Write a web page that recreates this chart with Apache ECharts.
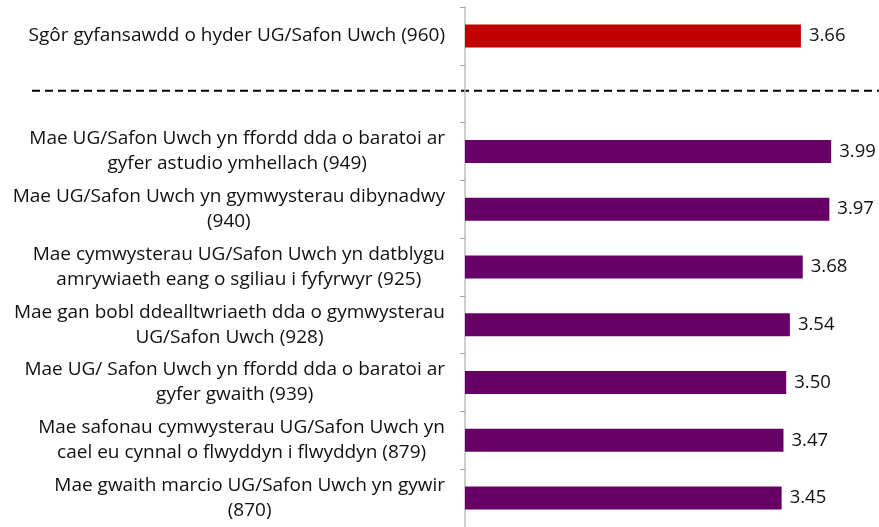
<!DOCTYPE html>
<html>
<head>
<meta charset="utf-8">
<script src="https://cdn.jsdelivr.net/npm/echarts@6/dist/echarts.min.js"></script>
<style>
html,body{margin:0;padding:0;background:#fff;}
#chart{width:879px;height:527px;}
</style>
</head>
<body>
<div id="chart"></div>
<script>
const categories = [
  'Sgôr gyfansawdd o hyder UG/Safon Uwch (960)',
  '',
  'Mae UG/Safon Uwch yn ffordd dda o baratoi ar\ngyfer astudio ymhellach (949)',
  'Mae UG/Safon Uwch yn gymwysterau dibynadwy\n(940)',
  'Mae cymwysterau UG/Safon Uwch yn datblygu\namrywiaeth eang o sgiliau i fyfyrwyr (925)',
  'Mae gan bobl ddealltwriaeth dda o gymwysterau\nUG/Safon Uwch (928)',
  'Mae UG/ Safon Uwch yn ffordd dda o baratoi ar\ngyfer gwaith (939)',
  'Mae safonau cymwysterau UG/Safon Uwch yn\ncael eu cynnal o flwyddyn i flwyddyn (879)',
  'Mae gwaith marcio UG/Safon Uwch yn gywir\n(870)'
];
const values = [3.66, null, 3.99, 3.97, 3.68, 3.54, 3.50, 3.47, 3.45];
const barColors = ['#C00000', '#660066', '#660066', '#660066', '#660066', '#660066', '#660066', '#660066', '#660066'];
const separatorIndex = 1;

const FONT = '"Open Sans", sans-serif';
const chart = echarts.init(document.getElementById('chart'));
chart.setOption({
  animation: false,
  grid: { left: 465, right: 1, top: 7, bottom: -2, containLabel: false },
  xAxis: { type: 'value', min: 0, max: 4.5, show: false },
  yAxis: {
    type: 'category',
    inverse: true,
    data: categories,
    axisLine: { lineStyle: { color: '#BFBFBF', width: 1.5 } },
    axisTick: { show: true, length: 5, lineStyle: { color: '#A6A6A6' } },
    splitLine: { show: false },
    axisLabel: {
      margin: 20,
      align: 'right',
      formatter: function (v) {
        if (!v) return '';
        return v.split('\n').map(l => '{c|' + l + '}').join('\n');
      },
      rich: {
        c: { align: 'center', fontFamily: FONT, fontSize: 19, lineHeight: 25, color: '#111' }
      }
    }
  },
  series: [{
    type: 'bar',
    barWidth: 23,
    data: values.map((v, i) => ({ value: v, itemStyle: { color: barColors[i] } })),
    label: {
      show: true,
      position: 'right',
      distance: 8,
      fontFamily: FONT,
      fontSize: 18.5,
      color: '#111',
      formatter: p => p.value == null ? '' : p.value.toFixed(2)
    }
  }]
});

const yMid = chart.convertToPixel({ yAxisIndex: 0 }, categories[separatorIndex]);
chart.setOption({
  graphic: [{
    type: 'line',
    shape: { x1: 32, y1: yMid - 3, x2: 879, y2: yMid - 3 },
    style: { stroke: '#000', lineWidth: 2, lineDash: [8, 5] }
  }]
});
</script>
</body>
</html>
